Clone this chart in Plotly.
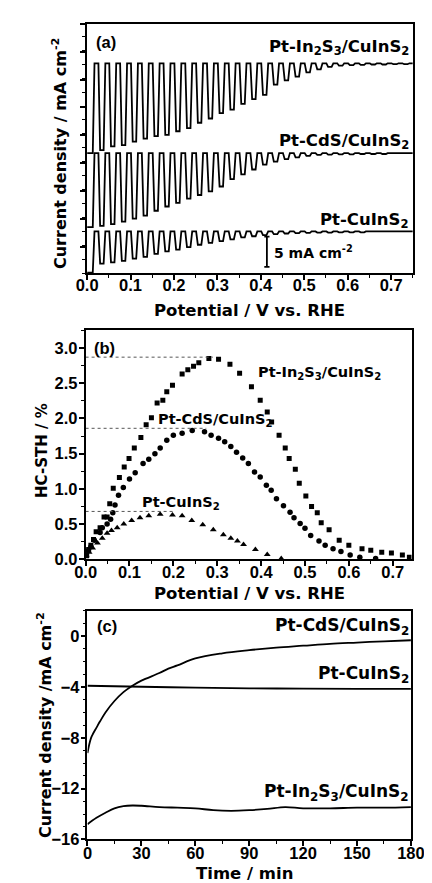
import plotly.graph_objects as go

W, H = 432, 883

# ---------------- Panel (a): chopped-light LSV ----------------
chop_center0 = 0.009
chop_period = 0.025
# light-on photocurrent depth (mA cm-2) at each chop cycle
jph_In2S3 = [14.8, 14.3, 13.7, 13.5, 12.9, 12.4, 12.0, 11.8, 11.2, 10.7,
             9.8, 9.1, 8.2, 7.65, 6.7, 5.9, 5.2, 3.5, 2.8, 2.2,
             1.5, 1.0, 0.6, 0.4, 0.3, 0.25, 0.2, 0.2, 0.15, 0.15]
jph_CdS = [12.2, 12.0, 11.7, 11.3, 10.8, 10.3, 9.5, 8.8, 8.2, 7.5,
           6.9, 6.3, 5.5, 4.3, 3.5, 2.7, 1.9, 1.4, 1.0, 0.7,
           0.45, 0.3, 0.25, 0.2, 0.2, 0.15, 0.15, 0.15, 0.1, 0.1]
jph_CuInS2 = [6.8, 5.3, 5.1, 4.85, 4.5, 4.2, 3.7, 3.3, 3.0, 2.6,
              2.2, 1.9, 1.6, 1.3, 1.0, 0.8, 0.6, 0.45, 0.35, 0.3,
              0.25, 0.2, 0.2, 0.15, 0.15, 0.15, 0.1, 0.1, 0.1, 0.1]
# vertical offsets of the stacked curves (mA cm-2)
offset_In2S3 = 27.7
offset_CdS = 12.9
offset_CuInS2 = 0.0
scale_bar_V = 0.414
scale_bar_top = -0.86
scale_bar_len = 5.0

# ---------------- Panel (b): HC-STH ----------------
V_In2S3 = [0.002, 0.007, 0.012, 0.018, 0.024, 0.033, 0.042, 0.049, 0.055, 0.063,
           0.077, 0.088, 0.099, 0.111, 0.126, 0.138, 0.150, 0.163, 0.176, 0.185,
           0.198, 0.220, 0.233, 0.246, 0.258, 0.281, 0.303, 0.329, 0.351, 0.378,
           0.398, 0.414, 0.424, 0.441, 0.455, 0.464, 0.478, 0.487, 0.502, 0.515,
           0.528, 0.537, 0.555, 0.578, 0.600, 0.630, 0.650, 0.675, 0.697, 0.722,
           0.738]
STH_In2S3 = [0.05, 0.14, 0.20, 0.28, 0.39, 0.45, 0.60, 0.60, 0.79, 1.01,
             1.16, 1.31, 1.43, 1.58, 1.73, 1.91, 2.01, 2.22, 2.26, 2.38,
             2.47, 2.63, 2.69, 2.74, 2.79, 2.85, 2.84, 2.77, 2.64, 2.45,
             2.26, 2.09, 1.95, 1.76, 1.58, 1.43, 1.28, 1.08, 0.90, 0.75,
             0.66, 0.52, 0.42, 0.27, 0.20, 0.15, 0.13, 0.10, 0.09, 0.06,
             0.03]
V_CdS = [0.002, 0.006, 0.012, 0.020, 0.033, 0.038, 0.049, 0.057, 0.062, 0.067,
         0.075, 0.086, 0.100, 0.113, 0.131, 0.144, 0.158, 0.170, 0.185, 0.200,
         0.220, 0.243, 0.271, 0.286, 0.303, 0.317, 0.331, 0.344, 0.358, 0.371,
         0.385, 0.398, 0.412, 0.423, 0.435, 0.451, 0.466, 0.475, 0.489, 0.500,
         0.513, 0.532, 0.546, 0.564, 0.582, 0.603, 0.625, 0.661]
STH_CdS = [0.06, 0.12, 0.18, 0.27, 0.38, 0.45, 0.50, 0.57, 0.66, 0.77,
           0.91, 1.02, 1.14, 1.23, 1.36, 1.42, 1.50, 1.58, 1.69, 1.76,
           1.79, 1.83, 1.81, 1.76, 1.72, 1.67, 1.60, 1.52, 1.44, 1.36,
           1.24, 1.17, 1.05, 0.98, 0.86, 0.76, 0.67, 0.59, 0.51, 0.44,
           0.34, 0.26, 0.20, 0.15, 0.11, 0.06, 0.03, 0.01]
V_CuInS2 = [0.002, 0.008, 0.016, 0.027, 0.038, 0.049, 0.059, 0.072, 0.087, 0.105,
            0.124, 0.144, 0.170, 0.198, 0.220, 0.242, 0.267, 0.291, 0.314, 0.331,
            0.346, 0.360, 0.387, 0.414, 0.446]
STH_CuInS2 = [0.05, 0.10, 0.16, 0.23, 0.30, 0.37, 0.41, 0.45, 0.50, 0.55,
              0.59, 0.62, 0.64, 0.63, 0.62, 0.55, 0.49, 0.42, 0.35, 0.30,
              0.26, 0.21, 0.14, 0.07, 0.01]
# guide lines: peak value and extent
guide_In2S3 = (2.87, 0.29)
guide_CdS = (1.86, 0.275)
guide_CuInS2 = (0.68, 0.20)

# ---------------- Panel (c): stability ----------------
t_CdS = [0, 1, 2, 3, 5, 7, 10, 15, 20, 25, 30, 40, 45, 50, 60, 75, 90, 105, 120, 135, 150, 165, 180]
J_CdS = [-9.2, -8.5, -8.0, -7.7, -7.2, -6.7, -6.0, -5.1, -4.4, -3.9, -3.5, -2.9, -2.55, -2.3,
         -1.75, -1.35, -1.1, -0.9, -0.75, -0.6, -0.5, -0.4, -0.32]
t_CuInS2 = [0, 30, 60, 90, 120, 150, 180]
J_CuInS2 = [-3.9, -3.98, -4.05, -4.1, -4.13, -4.15, -4.15]
t_In2S3 = [0, 5, 10, 15, 20, 25, 30, 40, 50, 60, 70, 80, 90, 100, 110, 120, 135, 150, 165, 180]
J_In2S3 = [-14.8, -14.3, -13.9, -13.55, -13.38, -13.33, -13.35, -13.45, -13.5, -13.55,
           -13.7, -13.75, -13.7, -13.6, -13.45, -13.55, -13.55, -13.5, -13.5, -13.45]

TICKFONT = "Liberation Sans, Arial, sans-serif"
TEXTFONT = "DejaVu Sans, Verdana, sans-serif"


def chopped(jph, off):
    xs, ys = [0.0], [off - jph[0]]
    for k, j in enumerate(jph):
        c = chop_center0 + k * chop_period
        if k > 0:
            xs += [c - 0.008, c - 0.004]
            ys += [off, off - j]
        xs += [c + 0.004, c + 0.008]
        ys += [off - j, off]
    xs.append(0.75)
    ys.append(off)
    return xs, ys


def xdom(l, r):
    return [l / W, r / W]


def ydom(top, bottom):
    return [1 - bottom / H, 1 - top / H]


fig = go.Figure()

for jph, off in [(jph_In2S3, offset_In2S3), (jph_CdS, offset_CdS), (jph_CuInS2, offset_CuInS2)]:
    xs, ys = chopped(jph, off)
    fig.add_trace(go.Scatter(x=xs, y=ys, mode="lines", line=dict(color="black", width=1.8),
                             xaxis="x", yaxis="y", showlegend=False))

# panel b
fig.add_trace(go.Scatter(x=V_In2S3, y=STH_In2S3, mode="markers",
                         marker=dict(symbol="square", size=5, color="black"),
                         xaxis="x2", yaxis="y2", showlegend=False))
fig.add_trace(go.Scatter(x=V_CdS, y=STH_CdS, mode="markers",
                         marker=dict(symbol="circle", size=5.5, color="black"),
                         xaxis="x2", yaxis="y2", showlegend=False))
fig.add_trace(go.Scatter(x=V_CuInS2, y=STH_CuInS2, mode="markers",
                         marker=dict(symbol="triangle-up", size=6, color="black"),
                         xaxis="x2", yaxis="y2", showlegend=False))
for val, ext in [guide_In2S3, guide_CdS, guide_CuInS2]:
    fig.add_trace(go.Scatter(x=[0, ext], y=[val, val], mode="lines",
                             line=dict(color="#555555", width=1, dash="dot"),
                             xaxis="x2", yaxis="y2", showlegend=False))

# panel c
for t, j in [(t_CdS, J_CdS), (t_CuInS2, J_CuInS2), (t_In2S3, J_In2S3)]:
    fig.add_trace(go.Scatter(x=t, y=j, mode="lines", line=dict(color="black", width=1.8, shape="spline"),
                             xaxis="x3", yaxis="y3", showlegend=False))

tickfont = dict(family=TICKFONT, size=16.5, color="black", weight="bold")
axcommon = dict(showline=True, linecolor="black", linewidth=1.5, mirror=True,
                ticks="outside", tickcolor="black", tickwidth=1.5, ticklen=5,
                showgrid=False, zeroline=False, tickfont=tickfont)
minor_common = dict(ticks="outside", ticklen=3, tickcolor="black", tickwidth=1.2)

fig.update_layout(
    width=W, height=H, margin=dict(l=0, r=0, t=0, b=0),
    paper_bgcolor="white", plot_bgcolor="white",
    xaxis=dict(domain=xdom(72.3, 418), range=[0, 0.75], anchor="y", dtick=0.1, tickformat=".1f",
               ticklabelstandoff=-9, minor=dict(dtick=0.05, **minor_common), **axcommon),
    yaxis=dict(domain=ydom(16, 268), range=[-6.9, 34.2], anchor="x", tick0=29.6, dtick=4.59,
               showticklabels=False, minor=dict(dtick=2.295, **minor_common), **axcommon),
    xaxis2=dict(domain=xdom(70.7, 416.7), range=[0, 0.743], anchor="y2", dtick=0.1, tickformat=".1f",
                ticklabelstandoff=-8, minor=dict(dtick=0.05, **minor_common), **axcommon),
    yaxis2=dict(domain=ydom(325, 557), range=[0, 3.26], anchor="x2", dtick=0.5, tickformat=".1f",
                ticklabelstandoff=-2, minor=dict(dtick=0.25, **minor_common), **axcommon),
    xaxis3=dict(domain=xdom(72.7, 416), range=[0, 180], anchor="y3", dtick=30,
                ticklabelstandoff=-7, minor=dict(dtick=15, **minor_common), **axcommon),
    yaxis3=dict(domain=ydom(609, 840), range=[-16, 2], anchor="x3", dtick=4,
                ticklabelstandoff=-2, minor=dict(dtick=1, **minor_common), **axcommon),
)

# scale bar in panel a
sb_bot = scale_bar_top - scale_bar_len
fig.add_shape(type="line", xref="x", yref="y", x0=scale_bar_V, x1=scale_bar_V, y0=scale_bar_top, y1=sb_bot,
              line=dict(color="black", width=1.8))
for yy in (scale_bar_top, sb_bot):
    fig.add_shape(type="line", xref="x", yref="y", x0=scale_bar_V - 0.006, x1=scale_bar_V + 0.006, y0=yy, y1=yy,
                  line=dict(color="black", width=1.8))


def P(x, y):
    return x / W, 1 - y / H


def ann(text, x, y, size=15, xanchor="center", angle=0, family=TEXTFONT):
    px, py = P(x, y)
    fig.add_annotation(text=text, x=px, y=py, xref="paper", yref="paper", showarrow=False,
                       xanchor=xanchor, yanchor="middle", textangle=angle,
                       font=dict(family=family, size=size, color="black", weight="bold"))


S = "Pt-In<sub>2</sub>S<sub>3</sub>/CuInS<sub>2</sub>"
C = "Pt-CdS/CuInS<sub>2</sub>"
U = "Pt-CuInS<sub>2</sub>"

# panel a texts
ann("(a)", 92, 34, 16.5, family=TICKFONT)
ann(S, 416, 40, 16.5, "right")
ann(C, 416, 135, 16.5, "right")
ann(U, 416, 215, 16.5, "right")
ann("5 mA cm<sup>-2</sup>", 269, 247, 14, "left")
ann("Current density / mA cm<sup>-2</sup>", 43, 147, 16, angle=-90)
ann("Potential / V vs. RHE", 245, 306, 16.5)

# panel b texts
ann("(b)", 91, 343, 16.5, family=TICKFONT)
ann(S, 252, 369, 14.5, "left")
ann(C, 145, 416, 14.5, "left")
ann(U, 128, 500, 14.5, "left")
ann("HC-STH / %", 25, 447, 15, angle=-90)
ann("Potential / V vs. RHE", 245, 592, 16.5)

# panel c texts
ann("(c)", 93, 624, 16.5, family=TICKFONT)
ann(C, 416, 625, 17, "right")
ann(U, 416, 673, 17, "right")
ann(S, 416, 793, 17, "right")
ann("Current density /mA cm<sup>-2</sup>", 27, 724, 16, angle=-90)
ann("Time / min", 239, 874, 16.5)

fig.write_html("out.html")
